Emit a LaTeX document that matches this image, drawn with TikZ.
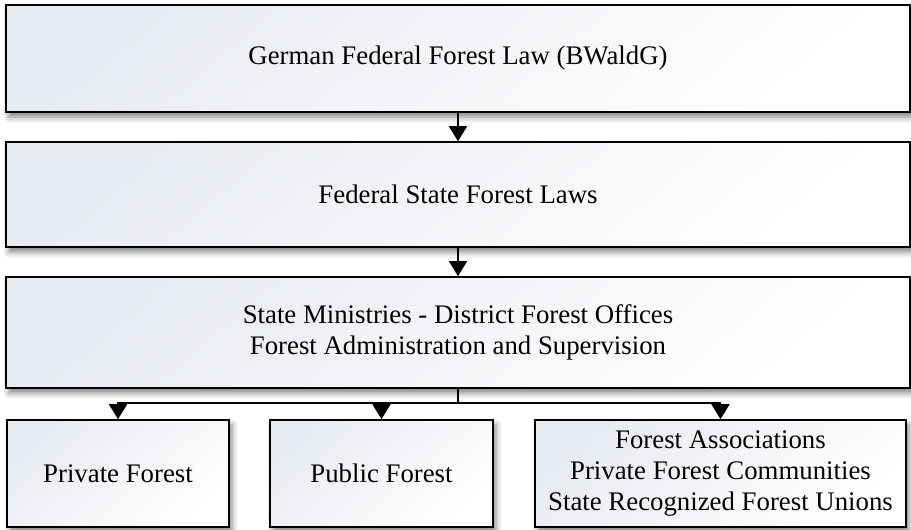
\documentclass[tikz,border=0pt]{standalone}
\usepackage{fontspec}
\setmainfont{Liberation Serif}
\usetikzlibrary{arrows.meta,shadows.blur}
\definecolor{boxtop}{RGB}{232,235,241}
\tikzset{
  box/.style={rectangle, draw=black, line width=0.8pt, inner sep=2pt, align=center,
    font=\fontsize{13.4}{15.4}\selectfont,
    top color=boxtop, bottom color=white, shading angle=40,
    blur shadow={shadow xshift=1.5pt, shadow yshift=-2.5pt, shadow blur radius=3pt, shadow opacity=50}},
  conn/.style={draw=black, line width=0.9pt},
  arr/.style={conn, -{Triangle[width=9pt,length=7.5pt]}}
}
\begin{document}
\begin{tikzpicture}[x=0.5pt,y=-0.5pt]
\useasboundingbox (0,0) rectangle (911,530);
\node[box, minimum width=452pt, minimum height=53.5pt] (law) at (458,58.5) {German Federal Forest Law (BWaldG)};
\node[box, minimum width=452pt, minimum height=52.5pt] (state) at (458,194.5) {Federal State Forest Laws};
\node[box, minimum width=452pt, minimum height=55.5pt] (min) at (458,332.5) {State Ministries - District Forest Offices\\Forest Administration and Supervision};
\node[box, minimum width=111pt, minimum height=53.5pt] (priv) at (118,473.5) {Private Forest};
\node[box, minimum width=111.5pt, minimum height=53.5pt] (pub) at (381.5,473.5) {Public Forest};
\node[box, minimum width=185.5pt, minimum height=53.5pt] (assoc) at (720.5,473.5) {Forest Associations\\Private Forest Communities\\State Recognized Forest Unions};
\draw[arr] (law) -- (state);
\draw[arr] (state) -- (min);
\coordinate (bus) at (458,403);
\draw[conn] (min.south) -- (bus);
\draw[arr] (bus) -| (priv.north);
\draw[arr] (bus) -| (pub.north);
\draw[arr] (bus) -| (assoc.north);
\end{tikzpicture}
\end{document}
